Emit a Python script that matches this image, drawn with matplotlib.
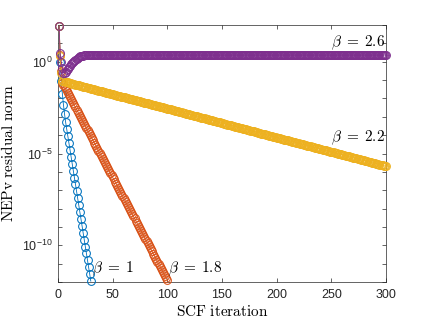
import numpy as np
import matplotlib
matplotlib.use('Agg')
import matplotlib.pyplot as plt
from matplotlib.ticker import FixedLocator, FixedFormatter, NullLocator

plt.rcParams['font.family'] = ['Liberation Sans', 'DejaVu Sans']
plt.rcParams['mathtext.fontset'] = 'cm'

# ── Data: log10(NEPv residual norm) at SCF iterations k = 1, 2, 3, ... ───────
res_beta_1 = [1.95, 0.00, -1.05, -1.75, -2.35, -2.85, -3.30,
              -3.68, -4.05, -4.43, -4.80, -5.18, -5.56, -5.93, -6.31, -6.68,
              -7.06, -7.44, -7.81, -8.19, -8.56, -8.94, -9.32, -9.69, -10.07,
              -10.44, -10.82, -11.20, -11.57, -11.95]

res_beta_18 = [1.95, 0.35, -0.50,
               -1.15, -1.26, -1.37, -1.49, -1.60, -1.71, -1.82, -1.93, -2.05, -2.16,
               -2.27, -2.38, -2.49, -2.61, -2.72, -2.83, -2.94, -3.05, -3.17, -3.28,
               -3.39, -3.50, -3.61, -3.73, -3.84, -3.95, -4.06, -4.17, -4.29, -4.40,
               -4.51, -4.62, -4.73, -4.85, -4.96, -5.07, -5.18, -5.29, -5.41, -5.52,
               -5.63, -5.74, -5.85, -5.97, -6.08, -6.19, -6.30, -6.41, -6.53, -6.64,
               -6.75, -6.86, -6.97, -7.09, -7.20, -7.31, -7.42, -7.53, -7.65, -7.76,
               -7.87, -7.98, -8.09, -8.21, -8.32, -8.43, -8.54, -8.65, -8.77, -8.88,
               -8.99, -9.10, -9.21, -9.33, -9.44, -9.55, -9.66, -9.77, -9.89, -10.00,
               -10.11, -10.22, -10.33, -10.45, -10.56, -10.67, -10.78, -10.89, -11.01, -11.12,
               -11.23, -11.34, -11.45, -11.57, -11.68, -11.79, -11.90]

res_beta_22 = [1.95, 0.30, -0.60,
               -1.05, -1.07, -1.08, -1.10, -1.11, -1.13, -1.14, -1.16, -1.18, -1.19,
               -1.21, -1.22, -1.24, -1.25, -1.27, -1.29, -1.30, -1.32, -1.33, -1.35,
               -1.36, -1.38, -1.40, -1.41, -1.43, -1.44, -1.46, -1.47, -1.49, -1.51,
               -1.52, -1.54, -1.55, -1.57, -1.58, -1.60, -1.62, -1.63, -1.65, -1.66,
               -1.68, -1.69, -1.71, -1.73, -1.74, -1.76, -1.77, -1.79, -1.80, -1.82,
               -1.84, -1.85, -1.87, -1.88, -1.90, -1.91, -1.93, -1.94, -1.96, -1.98,
               -1.99, -2.01, -2.02, -2.04, -2.05, -2.07, -2.09, -2.10, -2.12, -2.13,
               -2.15, -2.16, -2.18, -2.20, -2.21, -2.23, -2.24, -2.26, -2.27, -2.29,
               -2.31, -2.32, -2.34, -2.35, -2.37, -2.38, -2.40, -2.42, -2.43, -2.45,
               -2.46, -2.48, -2.49, -2.51, -2.53, -2.54, -2.56, -2.57, -2.59, -2.60,
               -2.62, -2.64, -2.65, -2.67, -2.68, -2.70, -2.71, -2.73, -2.75, -2.76,
               -2.78, -2.79, -2.81, -2.82, -2.84, -2.86, -2.87, -2.89, -2.90, -2.92,
               -2.93, -2.95, -2.97, -2.98, -3.00, -3.01, -3.03, -3.04, -3.06, -3.08,
               -3.09, -3.11, -3.12, -3.14, -3.15, -3.17, -3.19, -3.20, -3.22, -3.23,
               -3.25, -3.26, -3.28, -3.30, -3.31, -3.33, -3.34, -3.36, -3.37, -3.39,
               -3.41, -3.42, -3.44, -3.45, -3.47, -3.48, -3.50, -3.51, -3.53, -3.55,
               -3.56, -3.58, -3.59, -3.61, -3.62, -3.64, -3.66, -3.67, -3.69, -3.70,
               -3.72, -3.73, -3.75, -3.77, -3.78, -3.80, -3.81, -3.83, -3.84, -3.86,
               -3.88, -3.89, -3.91, -3.92, -3.94, -3.95, -3.97, -3.99, -4.00, -4.02,
               -4.03, -4.05, -4.06, -4.08, -4.10, -4.11, -4.13, -4.14, -4.16, -4.17,
               -4.19, -4.21, -4.22, -4.24, -4.25, -4.27, -4.28, -4.30, -4.32, -4.33,
               -4.35, -4.36, -4.38, -4.39, -4.41, -4.43, -4.44, -4.46, -4.47, -4.49,
               -4.50, -4.52, -4.54, -4.55, -4.57, -4.58, -4.60, -4.61, -4.63, -4.65,
               -4.66, -4.68, -4.69, -4.71, -4.72, -4.74, -4.76, -4.77, -4.79, -4.80,
               -4.82, -4.83, -4.85, -4.87, -4.88, -4.90, -4.91, -4.93, -4.94, -4.96,
               -4.98, -4.99, -5.01, -5.02, -5.04, -5.05, -5.07, -5.08, -5.10, -5.12,
               -5.13, -5.15, -5.16, -5.18, -5.19, -5.21, -5.23, -5.24, -5.26, -5.27,
               -5.29, -5.30, -5.32, -5.34, -5.35, -5.37, -5.38, -5.40, -5.41, -5.43,
               -5.45, -5.46, -5.48, -5.49, -5.51, -5.52, -5.54, -5.56, -5.57, -5.59,
               -5.60, -5.62, -5.63, -5.65, -5.67, -5.68, -5.70]

# plateau after the initial dip/rise reads flat at ~10^0.37
res_beta_26 = ([1.95, 0.45, 0.00, -0.35, -0.60, -0.60, -0.55, -0.47, -0.39, -0.31,
                -0.23, -0.15, -0.08, -0.01, 0.06, 0.12, 0.17, 0.22, 0.26, 0.29,
                0.31, 0.33, 0.34, 0.35, 0.36, 0.365]
               + [0.37] * 274)

series = [res_beta_1, res_beta_18, res_beta_22, res_beta_26]
beta_labels = [r'$\beta\;=\;1$', r'$\beta\;=\;1.8$', r'$\beta\;=\;2.2$', r'$\beta\;=\;2.6$']
label_pos = [(31, 10**-11.3), (100.5, 10**-11.3), (250, 10**-4.14), (250, 10**1.04)]

# MATLAB default line colors
colors = ['#0072BD', '#D95319', '#EDB120', '#7E2F8E']

# ── Figure ────────────────────────────────────────────────────────────────────
fig = plt.figure(figsize=(4.27, 3.21), dpi=100)
ax = fig.add_axes([0.1358, 0.1215, 0.9040 - 0.1358, 0.922 - 0.1215])

for vals, c in zip(series, colors):
    k = np.arange(1, len(vals) + 1)
    ax.semilogy(k, 10.0 ** np.array(vals), '-o', color=c, lw=0.6,
                ms=5.6, mfc='none', mew=0.75, clip_on=False, zorder=3)

for txt, (x, y) in zip(beta_labels, label_pos):
    ax.text(x, y, txt, fontsize=11, ha='left', va='center', color='k')

ax.set_xlim(0, 300)
ax.set_ylim(1e-12, 1e2)

ax.set_xticks(np.arange(0, 301, 50))
decades = 10.0 ** np.arange(-12, 3)
ax.yaxis.set_major_locator(FixedLocator(decades))
ax.yaxis.set_major_formatter(FixedFormatter(
    [r'$\mathregular{10^{%d}}$' % e if e in (0, -5, -10) else ''
     for e in range(-12, 3)]))
ax.yaxis.set_minor_locator(NullLocator())

ax.tick_params(direction='in', top=True, right=True, length=3, width=0.5,
               colors='#262626', labelsize=9, pad=4)
ax.tick_params(axis='x', pad=5)
for s in ax.spines.values():
    s.set_color('#262626')
    s.set_linewidth(0.5)

ax.set_xlabel(r'$\mathrm{SCF\ iteration}$', fontsize=11, labelpad=2)
ax.set_ylabel(r'$\mathrm{NEPv\ residual\ norm}$', fontsize=11, labelpad=4)

fig.savefig('out.png', dpi=100)
